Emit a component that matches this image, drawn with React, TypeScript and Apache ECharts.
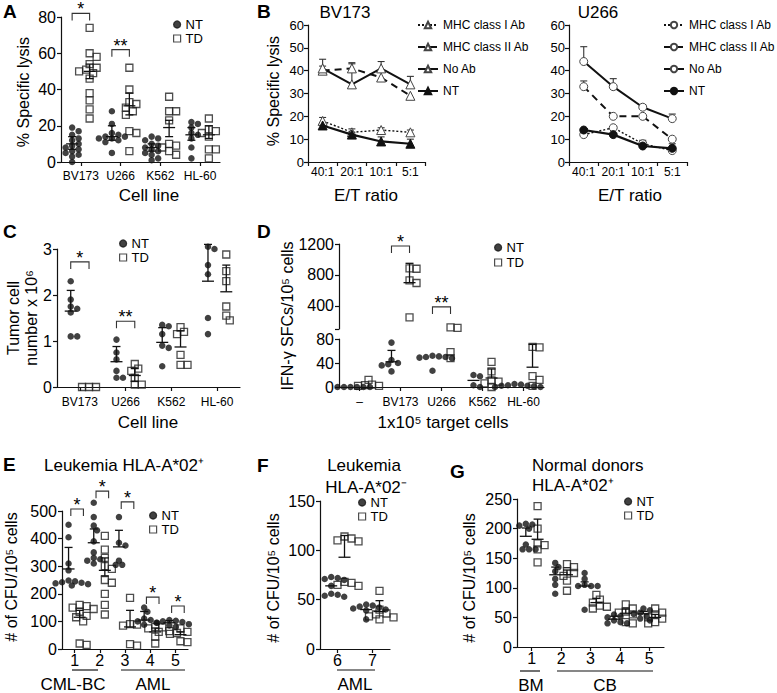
import React, { useEffect, useRef } from 'react';
import * as echarts from 'echarts';

const FONT = '"Liberation Sans", Arial, Helvetica, sans-serif';
const INK = '#111';

// ---------- Panel A: % specific lysis ----------
const catsA = ['BV173', 'U266', 'K562', 'HL-60'];
const aNT = [
  [19, 17, 15, 13, 12, 10, 9, 8, 7, 6, 5, 4, 3, 0],
  [28, 21, 16, 15, 14, 14, 13, 13, 12, 11, 5],
  [14, 13, 12, 10, 9, 8, 7, 6, 5, 4, 2, 1],
  [22, 21, 19, 16, 15, 13, 8, 2],
];
const aTD = [
  [74, 60, 58, 54, 52, 51, 50, 49, 46, 38, 34, 29, 24],
  [52, 40, 33, 32, 30, 28, 26, 17, 16, 6],
  [36, 28, 28, 23, 10, 9, 8, 6, 4],
  [24, 18, 17, 16, 14, 7, 7, 2],
];
// [mean, low, high]
const aNTbar = [[10, 7, 14], [14, 12, 20], [8, 6, 10], [15, 12, 19]];
const aTDbar = [[50, 46, 54], [31, 26, 38], [19, 14, 23], [15, 13, 20]];
const aBrackets: [number, number, string][] = [[0, 82, '*'], [1, 62, '**']];

// ---------- Panel B: E/T ratio ----------
const etRatios = ['40:1', '20:1', '10:1', '5:1'];
const bvMHC1 = [18, 13, 14, 13];
const bvMHC1Err = [1.5, 1.5, 1, 1];
const bvMHC2 = [40, 41, 37, 29];
const bvMHC2Err = [2, 2.5, 0, 0];
const bvNoAb = [41, 34, 41, 34];
const bvNoAbErr = [4, 9, 3, 3.5];
const bvNT = [16, 12, 9, 8];
const bvNTErr = [1, 1, 2, 2];
const uMHC1 = [12, 15, 8, 5];
const uMHC1Err = [1, 0.5, 1.5, 0.5];
const uMHC2 = [33, 20, 20, 10];
const uMHC2Err = [2.5, 0, 0, 0];
const uNoAb = [44, 33, 24, 19];
const uNoAbErr = [6.5, 3.5, 1, 2];
const uNT = [14, 12, 7, 6];
const uNTErr = [0.5, 0.5, 2, 2];

// ---------- Panel C: tumor cell number ----------
const catsC = ['BV173', 'U266', 'K562', 'HL-60'];
const cNT = [
  [2.3, 1.9, 1.75, 1.7, 1.62, 1.1, 1.1],
  [1.03, 0.75, 0.6, 0.35, 0.2, 0.2],
  [1.35, 1.32, 1.15, 0.9, 0.85, 0.45],
  [3.05, 3.0, 2.65, 2.45, 1.5, 1.15],
];
const cTD = [
  [0, 0, 0],
  [0.5, 0.4, 0.35, 0.2, 0.05, 0.05],
  [1.3, 1.2, 1.15, 0.7, 0.48, 0.48],
  [2.88, 2.52, 2.3, 1.75, 1.55, 1.45],
];
const cNTbar = [[1.65, 1.65, 2.1], [0.55, 0.55, 0.88], [0.97, 0.97, 1.29], [2.3, 2.3, 3.1]];
const cTDbar = [null, [0.25, 0.12, 0.4], [0.87, 0.87, 1.22], [2.07, 2.07, 2.65]];
const cBrackets: [number, number, string][] = [[0, 2.72, '*'], [1, 1.43, '**']];

// ---------- Panel D: IFN-g SFCs ----------
const catsD = ['–', 'BV173', 'U266', 'K562', 'HL-60'];
const dNT = [
  [0, 0, 0, 0, 0, 0],
  [74, 45, 40, 38, 36, 26],
  [52, 51, 50, 50, 49, 48, 27],
  [20, 18, 3, 0],
  [5, 4, 3, 2, 2, 1, 0, 0],
];
const dTD = [
  [12, 4, 3, 2, 2],
  [885, 880, 730, 695, 250],
  [120, 115, 58, 48],
  [42, 26, 11, 9, 6, 0],
  [67, 66, 18, 12, 2],
];
const dNTbar = [null, [42, 42, 61], null, [11, 11, 11], null];
const dTDbar = [null, [700, 700, 950], null, [15, 15, 30], [33, 33, 71]];
const dBrackets: [number, number, string][] = [[1, 1175, '*'], [2, 386, '**']];
const dTopTicks = [400, 800, 1200];

// ---------- Panel E: leukemia HLA-A*02+ ----------
const catsE = ['1', '2', '3', '4', '5'];
const eNT = [
  [450, 405, 310, 285, 248, 245, 242, 240, 238, 235, 230],
  [530, 478, 447, 430, 390, 350, 330, 325, 320, 310],
  [478, 385, 375, 320, 305, 305],
  [150, 135, 110, 105, 100, 95, 88],
  [105, 102, 100, 98, 95, 90, 85, 80],
];
const eTD = [
  [160, 155, 150, 145, 135, 120, 115, 100, 20, 15],
  [410, 360, 330, 300, 290, 250, 240, 200, 160, 125],
  [185, 90, 88, 85, 18, 12],
  [80, 78, 75, 65, 62, 45, 20],
  [75, 62, 58, 55, 28, 25],
];
const eNTbar = [[290, 290, 368], [385, 385, 435], [370, 370, 430], [105, 105, 136], [95, 95, 103]];
const eTDbar = [[115, 115, 140], [285, 265, 330], [80, 80, 140], [62, 62, 76], [52, 52, 62]];
const eBrackets: [number, number, string][] = [[0, 507, '*'], [1, 572, '*'], [2, 533, '*'], [3, 188, '*'], [4, 156, '*']];

// ---------- Panel F: leukemia HLA-A*02- ----------
const catsF = ['6', '7'];
const fNT = [
  [73, 72, 71, 70, 64, 56, 55, 54, 53],
  [45, 44, 43, 42, 41, 40, 39, 30],
];
const fTD = [
  [114, 112, 110, 109, 68, 67, 65, 64],
  [59, 40, 36, 35, 33, 32, 30],
];
const fNTbar = [[64, 64, 64], [40, 40, 40]];
const fTDbar = [[93, 93, 115], [38, 38, 49]];

// ---------- Panel G: normal donors ----------
const catsG = ['1', '2', '3', '4', '5'];
const gNT = [
  [208, 207, 205, 200, 173, 165, 165, 165],
  [142, 135, 128, 115, 105, 90],
  [125, 115, 105, 103, 103, 103, 63],
  [55, 52, 50, 45, 42, 40, 40],
  [65, 62, 58, 56, 52, 48, 45],
];
const gTD = [
  [238, 200, 175, 172, 165, 143],
  [140, 135, 128, 125, 120, 112, 95],
  [88, 80, 75, 70, 68, 65],
  [72, 65, 60, 58, 55, 42, 40],
  [65, 58, 55, 50, 48, 42, 40],
];
const gNTbar = [[187, 187, 201], [122, 122, 135], [103, 103, 110], [47, 47, 52], [56, 56, 60]];
const gTDbar = [[182, 182, 216], [122, 122, 130], [75, 75, 82], [57, 57, 64], [50, 50, 55]];

// ---------------------------------------------------------------
function swarm(vals: number[], center: number, pxCat: number, pxVal: number, d: number): number[][] {
  const placed: [number, number][] = [];
  const out: number[][] = [];
  for (const v of vals) {
    const py = v * pxVal;
    let best = 0;
    for (let k = 0; k < 40; k++) {
      const o = (k % 2 === 1 ? 1 : -1) * Math.ceil(k / 2) * (d / 2);
      const ok = placed.every(([qx, qy]) => Math.hypot(qx - o, qy - py) >= d * 0.8);
      if (ok) { best = o; break; }
    }
    placed.push([best, py]);
    out.push([center + best / pxCat, v]);
  }
  return out;
}

function buildOption() {
  const grid: any[] = [];
  const xAxis: any[] = [];
  const yAxis: any[] = [];
  const series: any[] = [];
  const legend: any[] = [];
  const graphic: any[] = [];

  const axisLine = { show: true, onZero: false, lineStyle: { color: INK, width: 1.2 } };
  const tickStyle = { color: INK, width: 1.2 };
  const plain = (v: number) => String(v);

  const addGrid = (g: any) => {
    grid.push({ ...g, containLabel: false, outerBoundsMode: 'none', show: false });
    return grid.length - 1;
  };
  const addCatAxis = (gi: number, cats: string[], font: number, margin: number, align: boolean, show = true) => {
    xAxis.push({
      type: 'category', gridIndex: gi, data: cats, show, position: 'bottom', boundaryGap: true,
      axisLine, axisTick: { show: true, length: 4, alignWithLabel: align, lineStyle: tickStyle },
      axisLabel: { interval: 0, margin, fontSize: font, fontFamily: FONT, color: '#000' },
      splitLine: { show: false },
    });
    return xAxis.length - 1;
  };
  const addValX = (gi: number, n: number) => {
    xAxis.push({ type: 'value', gridIndex: gi, min: 0, max: n, show: false, position: 'top' });
    return xAxis.length - 1;
  };
  const addY = (gi: number, min: number, max: number, interval: number | undefined, font: number, extra: any = {}) => {
    yAxis.push({
      type: 'value', gridIndex: gi, min, max, interval,
      axisLine, axisTick: { show: true, length: 4, lineStyle: tickStyle, ...(extra.tick || {}) },
      axisLabel: { margin: 5, fontSize: font, fontFamily: FONT, color: '#000', formatter: plain, ...(extra.label || {}) },
      splitLine: { show: false },
    });
    return yAxis.length - 1;
  };
  const scatter = (name: string, xi: number, yi: number, data: number[][], isTD: boolean) => {
    series.push({
      name, type: 'scatter', xAxisIndex: xi, yAxisIndex: yi, data, clip: false, silent: true,
      symbol: isTD ? 'rect' : 'circle', symbolSize: isTD ? 7 : 6.5,
      itemStyle: isTD
        ? { color: 'rgba(255,255,255,0)', borderColor: '#222', borderWidth: 1.3 }
        : { color: INK, borderColor: INK, borderWidth: 0 },
      emphasis: { disabled: true }, z: isTD ? 4 : 5,
    });
  };
  const errBars = (xi: number, yi: number, items: number[][]) => {
    series.push({
      type: 'custom', xAxisIndex: xi, yAxisIndex: yi, clip: false, silent: true, z: 6, data: items,
      renderItem: (_p: any, api: any) => {
        const x = api.value(0), m = api.value(1), lo = api.value(2), hi = api.value(3);
        const pm = api.coord([x, m]);
        const cl = api.coord([x, lo])[1];
        const ch = api.coord([x, hi])[1];
        const st = { stroke: INK, lineWidth: 1.3 };
        const cx = pm[0], cm = pm[1];
        const kids: any[] = [{ type: 'line', shape: { x1: cx - 6, y1: cm, x2: cx + 6, y2: cm }, style: st }];
        if (ch < cm - 0.5) {
          kids.push({ type: 'line', shape: { x1: cx, y1: cm, x2: cx, y2: ch }, style: st });
          kids.push({ type: 'line', shape: { x1: cx - 4, y1: ch, x2: cx + 4, y2: ch }, style: st });
        }
        if (cl > cm + 0.5) {
          kids.push({ type: 'line', shape: { x1: cx, y1: cm, x2: cx, y2: cl }, style: st });
          kids.push({ type: 'line', shape: { x1: cx - 4, y1: cl, x2: cx + 4, y2: cl }, style: st });
        }
        return { type: 'group', children: kids };
      },
    });
  };
  const bracketSeries = (xi: number, yi: number, items: number[][], labels: string[]) => {
    series.push({
      type: 'custom', xAxisIndex: xi, yAxisIndex: yi, clip: false, silent: true, z: 7, data: items,
      renderItem: (p: any, api: any) => {
        const a = api.coord([api.value(0), api.value(2)]);
        const b = api.coord([api.value(1), api.value(2)]);
        const leg = 7;
        return {
          type: 'group',
          children: [
            {
              type: 'polyline',
              shape: { points: [[a[0], a[1] + leg], [a[0], a[1]], [b[0], b[1]], [b[0], b[1] + leg]] },
              style: { stroke: '#333', fill: null, lineWidth: 1.1 },
            },
            {
              type: 'text',
              style: {
                text: labels[p.dataIndex], x: (a[0] + b[0]) / 2, y: a[1] + 5,
                align: 'center', verticalAlign: 'bottom', textAlign: 'center', textVerticalAlign: 'bottom',
                fontSize: 18, fontFamily: FONT, fill: '#000',
              },
            },
          ],
        };
      },
    });
  };
  const addLegend = (names: string[], left: number, top: number, font: number, gap: number) => {
    legend.push({
      data: names, left, top, orient: 'vertical', padding: 0, itemGap: gap, itemWidth: 7, itemHeight: 7,
      selectedMode: false, formatter: (n: string) => n.split(':')[1],
      textStyle: { fontSize: font, fontFamily: FONT, color: '#000', lineHeight: font },
      itemStyle: { borderWidth: 1.2 },
    });
  };
  const barItems = (bars: (number[] | null)[], off: number) =>
    bars.map((b, i) => (b ? [i + 0.5 + off, b[0], b[1], b[2]] : null)).filter((v) => v) as number[][];

  // ---- generic scatter panel ----
  const scatterPanel = (p: any) => {
    const gi = addGrid(p.grid);
    const n = p.cats.length;
    addCatAxis(gi, p.cats, p.catFont, p.catMargin, true);
    const xv = addValX(gi, n);
    const yi = addY(gi, p.yMin, p.yMax, p.yInterval, p.yFont);
    const pxCat = p.grid.width / n;
    const pxVal = p.grid.height / (p.yMax - p.yMin);
    const nt: number[][] = [];
    const td: number[][] = [];
    p.nt.forEach((vals: number[], i: number) => nt.push(...swarm(vals, i + 0.5 + p.off[0], pxCat, pxVal, 6.5)));
    p.td.forEach((vals: number[], i: number) => td.push(...swarm(vals, i + 0.5 + p.off[1], pxCat, pxVal, 7)));
    scatter(`${p.id}:NT`, xv, yi, nt, false);
    scatter(`${p.id}:TD`, xv, yi, td, true);
    errBars(xv, yi, [...barItems(p.ntBar, p.off[0]), ...barItems(p.tdBar, p.off[1])]);
    if (p.brackets) {
      const bo = p.brOff || p.off;
      bracketSeries(
        xv, yi,
        p.brackets.map((b: any) => [b[0] + 0.5 + bo[0], b[0] + 0.5 + bo[1], b[1]]),
        p.brackets.map((b: any) => b[2]),
      );
    }
    addLegend([`${p.id}:NT`, `${p.id}:TD`], p.legend[0], p.legend[1], 13, 1);
  };

  scatterPanel({
    id: 'A', grid: { left: 61, top: 17, width: 159, height: 145 }, cats: catsA,
    yMin: 0, yMax: 80, yInterval: 20, nt: aNT, td: aTD, ntBar: aNTbar, tdBar: aTDbar,
    brackets: aBrackets, legend: [173, 18], catFont: 12, catMargin: 8, yFont: 16, off: [-0.22, 0.22],
  });
  scatterPanel({
    id: 'C', grid: { left: 57, top: 249, width: 183, height: 138 }, cats: catsC,
    yMin: 0, yMax: 3, yInterval: 1, nt: cNT, td: cTD, ntBar: cNTbar, tdBar: cTDbar,
    brackets: cBrackets, legend: [119, 237], catFont: 12, catMargin: 9, yFont: 16, off: [-0.2, 0.2],
  });
  scatterPanel({
    id: 'E', grid: { left: 62, top: 511, width: 126, height: 138 }, cats: catsE,
    yMin: 0, yMax: 500, yInterval: 100, nt: eNT, td: eTD, ntBar: eNTbar, tdBar: eTDbar,
    brackets: eBrackets, brOff: [-0.15, 0.35], legend: [149, 509], catFont: 16, catMargin: 3, yFont: 16,
    off: [-0.24, 0.2],
  });
  scatterPanel({
    id: 'F', grid: { left: 320, top: 501, width: 70, height: 148 }, cats: catsF,
    yMin: 0, yMax: 150, yInterval: 50, nt: fNT, td: fTD, ntBar: fNTbar, tdBar: fTDbar,
    brackets: null, legend: [358, 496], catFont: 16, catMargin: 3, yFont: 16, off: [-0.18, 0.2],
  });
  scatterPanel({
    id: 'G', grid: { left: 517, top: 499, width: 147, height: 148 }, cats: catsG,
    yMin: 0, yMax: 250, yInterval: 50, nt: gNT, td: gTD, ntBar: gNTbar, tdBar: gTDbar,
    brackets: null, legend: [624, 495], catFont: 16, catMargin: 3, yFont: 16, off: [-0.2, 0.2],
  });

  // ---- Panel D (broken axis: two grids) ----
  {
    const gTop = { left: 339, top: 244, width: 205, height: 85 };
    const gBot = { left: 339, top: 339, width: 205, height: 48 };
    const giT = addGrid(gTop);
    const giB = addGrid(gBot);
    const n = catsD.length;
    addCatAxis(giT, catsD, 12, 9, true, false);
    const xvT = addValX(giT, n);
    addCatAxis(giB, catsD, 12, 9, true, true);
    const xvB = addValX(giB, n);
    const yT = addY(giT, 100, 1200, undefined, 16, {
      label: { customValues: dTopTicks },
      tick: { customValues: [100, ...dTopTicks] },
    });
    const yB = addY(giB, 0, 80, 40, 16);
    const pxCat = gTop.width / n;
    const pxT = gTop.height / 1100;
    const pxB = gBot.height / 80;
    const split = (groups: number[][], off: number, d: number) => {
      const top: number[][] = [];
      const bot: number[][] = [];
      groups.forEach((vals, i) => {
        top.push(...swarm(vals.filter((v) => v >= 100), i + 0.5 + off, pxCat, pxT, d));
        bot.push(...swarm(vals.filter((v) => v < 100), i + 0.5 + off, pxCat, pxB, d));
      });
      return [top, bot];
    };
    const [ntT, ntB] = split(dNT, -0.22, 6.5);
    const [tdT, tdB] = split(dTD, 0.22, 7);
    scatter('D:NT', xvB, yB, ntB, false);
    scatter('D:TD', xvB, yB, tdB, true);
    scatter('D:NT', xvT, yT, ntT, false);
    scatter('D:TD', xvT, yT, tdT, true);
    const bars = [...barItems(dNTbar, -0.22), ...barItems(dTDbar, 0.22)];
    errBars(xvT, yT, bars.filter((b) => b[1] >= 100));
    errBars(xvB, yB, bars.filter((b) => b[1] < 100));
    bracketSeries(
      xvT, yT,
      dBrackets.map((b) => [b[0] + 0.5 - 0.22, b[0] + 0.5 + 0.22, b[1]]),
      dBrackets.map((b) => b[2]),
    );
    addLegend(['D:NT', 'D:TD'], 494, 241, 13, 2);
  }

  // ---- Panel B (two line charts) ----
  const linePanel = (id: string, g: any, lines: any[], legendLeft: number, sym: string) => {
    const gi = addGrid(g);
    const xi = addCatAxis(gi, etRatios, 12, 4, false);
    const yi = addY(gi, 0, 60, 10, 13, { label: { margin: 4 } });
    const errItems: number[][] = [];
    lines.forEach((ln) => {
      series.push({
        name: `${id}:${ln.name}`, type: 'line', xAxisIndex: xi, yAxisIndex: yi, data: ln.vals,
        symbol: sym, symbolSize: sym === 'triangle' ? 9 : 8, showSymbol: true, silent: true,
        lineStyle: { color: INK, width: ln.width, type: ln.type },
        itemStyle: ln.filled
          ? { color: INK, borderColor: INK, borderWidth: 1 }
          : { color: '#fff', borderColor: '#444', borderWidth: 1 },
        emphasis: { disabled: true }, z: ln.z,
      });
      ln.err.forEach((e: number, i: number) => {
        if (e > 0) errItems.push([i, ln.vals[i], ln.vals[i] + e]);
      });
    });
    series.push({
      type: 'custom', xAxisIndex: xi, yAxisIndex: yi, clip: false, silent: true, z: 1, data: errItems,
      renderItem: (_p: any, api: any) => {
        const a = api.coord([api.value(0), api.value(1)]);
        const b = api.coord([api.value(0), api.value(2)]);
        const st = { stroke: '#333', lineWidth: 1.1 };
        return {
          type: 'group',
          children: [
            { type: 'line', shape: { x1: a[0], y1: a[1], x2: b[0], y2: b[1] }, style: st },
            { type: 'line', shape: { x1: b[0] - 3.5, y1: b[1], x2: b[0] + 3.5, y2: b[1] }, style: st },
          ],
        };
      },
    });
    legend.push({
      data: lines.map((l) => `${id}:${l.name}`), left: legendLeft, top: 19, orient: 'vertical', padding: 0,
      itemGap: 10, itemWidth: 20, itemHeight: 8, selectedMode: false,
      formatter: (n: string) => n.split(':')[1],
      textStyle: { fontSize: 12, fontFamily: FONT, color: '#000' },
    });
  };
  linePanel('B1', { left: 308, top: 25, width: 117, height: 137 }, [
    { name: 'MHC class I Ab', vals: bvMHC1, err: bvMHC1Err, type: [2, 2], width: 1.4, filled: false, z: 3 },
    { name: 'MHC class II Ab', vals: bvMHC2, err: bvMHC2Err, type: [7, 5], width: 2, filled: false, z: 3 },
    { name: 'No Ab', vals: bvNoAb, err: bvNoAbErr, type: 'solid', width: 2, filled: false, z: 4 },
    { name: 'NT', vals: bvNT, err: bvNTErr, type: 'solid', width: 2.2, filled: true, z: 5 },
  ], 417, 'triangle');
  linePanel('B2', { left: 569, top: 25, width: 118, height: 137 }, [
    { name: 'MHC class I Ab', vals: uMHC1, err: uMHC1Err, type: [2, 2], width: 1.4, filled: false, z: 3 },
    { name: 'MHC class II Ab', vals: uMHC2, err: uMHC2Err, type: [7, 5], width: 2, filled: false, z: 3 },
    { name: 'No Ab', vals: uNoAb, err: uNoAbErr, type: 'solid', width: 2, filled: false, z: 4 },
    { name: 'NT', vals: uNT, err: uNTErr, type: 'solid', width: 2.2, filled: true, z: 5 },
  ], 663, 'circle');

  // ---- texts ----
  const txt = (text: string, x: number, y: number, size: number, o: any = {}) => ({
    type: 'text', x, y, rotation: o.rot || 0, silent: true, z: 10,
    style: {
      text, fontSize: size, fontFamily: FONT, fontWeight: o.bold ? 'bold' : 'normal', fill: '#000',
      align: o.align || 'center', verticalAlign: o.va || 'middle',
      textAlign: o.align || 'center', textVerticalAlign: o.va || 'middle',
    },
  });
  const R = Math.PI / 2;
  const hline = (x1: number, x2: number, y: number) => ({
    type: 'line', silent: true, shape: { x1, y1: y, x2, y2: y }, style: { stroke: INK, lineWidth: 1.2 },
  });
  graphic.push(
    txt('A', 3, 2, 19, { bold: true, align: 'left', va: 'top' }),
    txt('B', 257, 2, 19, { bold: true, align: 'left', va: 'top' }),
    txt('C', 3, 222, 19, { bold: true, align: 'left', va: 'top' }),
    txt('D', 257, 222, 19, { bold: true, align: 'left', va: 'top' }),
    txt('E', 3, 455, 19, { bold: true, align: 'left', va: 'top' }),
    txt('F', 257, 456, 19, { bold: true, align: 'left', va: 'top' }),
    txt('G', 450, 462, 19, { bold: true, align: 'left', va: 'top' }),
    // A
    txt('% Specific lysis', 23, 92, 16, { rot: R }),
    txt('Cell line', 149, 195, 17),
    // B
    txt('% Specific lysis', 273, 91, 16, { rot: R }),
    txt('BV173', 345, 12, 17),
    txt('U266', 598, 12, 17),
    txt('E/T ratio', 366, 195, 17),
    txt('E/T ratio', 630, 195, 17),
    // C
    txt('Tumor cell', 13, 318, 16, { rot: R }),
    txt('number x 10⁶', 31, 318, 16, { rot: R }),
    txt('Cell line', 148, 422, 17),
    // D
    txt('IFN-γ SFCs/10⁵ cells', 287, 316, 16, { rot: R }),
    txt('1x10⁵ target cells', 443, 422, 17),
    // E
    txt('Leukemia HLA-A*02⁺', 124, 465, 17),
    txt('# of CFU/10⁵ cells', 11, 577, 16, { rot: R }),
    hline(72, 98, 670),
    hline(121, 185, 670),
    txt('CML-BC', 73, 684, 17),
    txt('AML', 153, 684, 17),
    // F
    txt('Leukemia', 364, 465, 17),
    txt('HLA-A*02⁻', 366, 487, 17),
    txt('# of CFU/10⁵ cells', 273, 578, 16, { rot: R }),
    hline(337, 375, 670),
    txt('AML', 355, 684, 17),
    // G
    txt('Normal donors', 532, 465, 17, { align: 'left' }),
    txt('HLA-A*02⁺', 532, 485, 17, { align: 'left' }),
    txt('# of CFU/10⁵ cells', 469, 578, 16, { rot: R }),
    hline(520, 540, 671),
    hline(557, 653, 671),
    txt('BM', 531, 685, 17),
    txt('CB', 605, 685, 17),
  );

  return {
    animation: false,
    backgroundColor: '#fff',
    textStyle: { fontFamily: FONT },
    grid, xAxis, yAxis, series, legend, graphic,
  };
}

export default function App() {
  const ref = useRef<HTMLDivElement>(null);
  useEffect(() => {
    if (!ref.current) return;
    const chart = echarts.init(ref.current, undefined, { renderer: 'svg' });
    chart.setOption(buildOption() as any);
    return () => chart.dispose();
  }, []);
  return (
    <div
      ref={ref}
      style={{ position: 'absolute', left: 0, top: 0, width: 777, height: 693, background: '#fff' }}
    />
  );
}
